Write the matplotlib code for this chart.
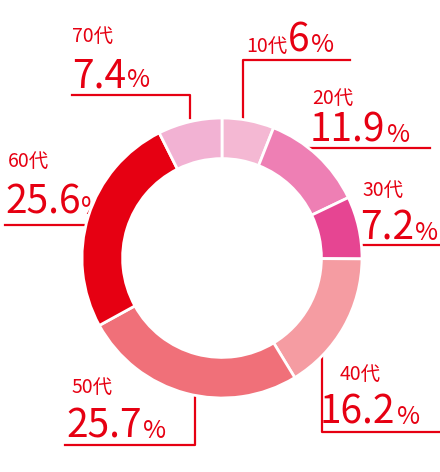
import matplotlib
matplotlib.use("Agg")
import matplotlib.pyplot as plt

plt.rcParams['font.family'] = ['Noto Sans CJK JP', 'DejaVu Sans']
labels = ["10代", "20代", "30代", "40代", "50代", "60代", "70代"]
values = [6, 11.9, 7.2, 16.2, 25.7, 25.6, 7.4]
pct = ["6", "11.9", "7.2", "16.2", "25.7", "25.6", "7.4"]
colors = ["#f4b8d3", "#ee7fb4", "#e64592", "#f59ca2", "#f07079", "#e60012", "#f2b2d3"]
red = "#e60012"

fig = plt.figure(figsize=(4.4, 4.72), dpi=100)
ax = fig.add_axes([82/440, 74/472, 280/440, 280/472])
ax.pie(values, colors=colors, startangle=90, counterclock=False, radius=1,
       wedgeprops=dict(width=0.29, edgecolor='white', linewidth=2))
ax.set_xlim(-1, 1); ax.set_ylim(-1, 1)
ax.set_aspect('equal')

ov = fig.add_axes([0, 0, 1, 1], zorder=-1)
ov.set_xlim(0, 440); ov.set_ylim(472, 0); ov.axis('off')
kw = dict(color=red, lw=1.6)
ov.plot([243, 243, 350], [118, 60, 60], **kw)
ov.plot([305, 430], [148, 148], **kw)
ov.plot([355, 440], [245, 245], **kw)
ov.plot([322, 322, 440], [350, 432, 432], **kw)
ov.plot([195, 195, 65], [395, 445, 445], **kw)
ov.plot([5, 90], [225, 225], **kw)
ov.plot([190, 190, 72], [118, 95, 95], **kw)

def lab(x, y, i, x2=None, y2=None):
    ov.text(x, y, labels[i], fontsize=14, color=red, va='baseline')
    t = ov.text(x2, y2, pct[i], fontsize=28, color=red, va='baseline')
    fig.canvas.draw()
    bb = t.get_window_extent()
    ov.text(x2 + bb.width + 1, y2, "%", fontsize=18, color=red, va='baseline')

ov.text(246, 52, labels[0], fontsize=14, color=red, va='baseline')
ov.text(288, 52, pct[0], fontsize=28, color=red, va='baseline')
ov.text(311, 52, "%", fontsize=18, color=red, va='baseline')
lab(312, 104, 1, 310, 142)
lab(362, 196, 2, 360, 240)
lab(340, 380, 3, 320, 424)
lab(72, 393, 4, 66, 438)
lab(8, 167, 5, 5, 214)
lab(72, 42, 6, 72, 87)

fig.savefig("out.png", dpi=100)
